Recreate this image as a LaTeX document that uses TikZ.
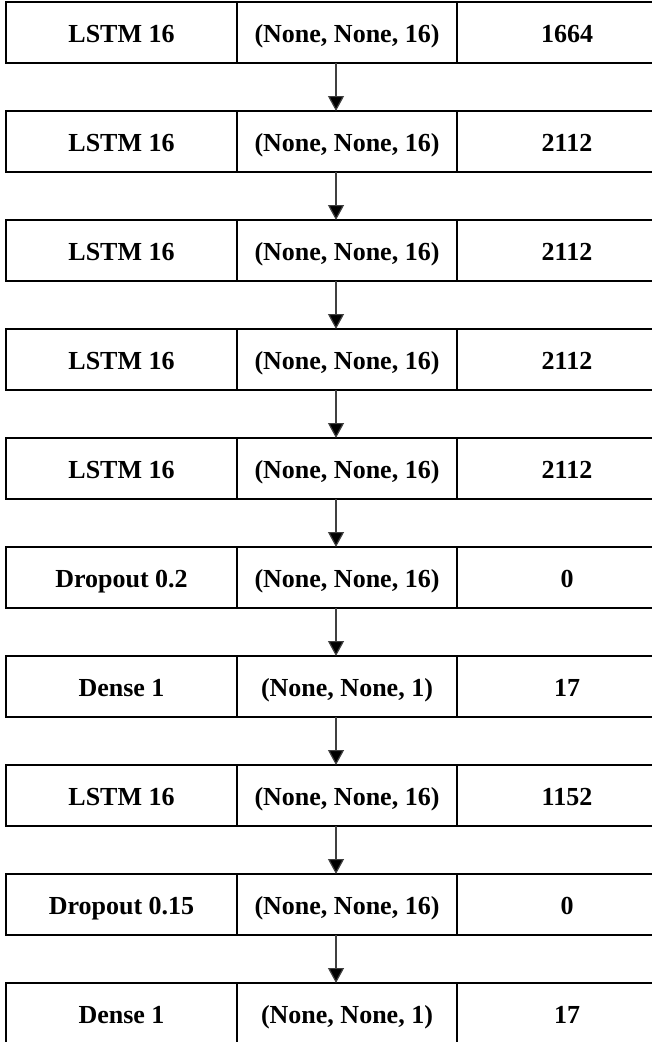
\documentclass[tikz,border=0pt]{standalone}
\usepackage{fontspec}
\setmainfont{Liberation Serif}
\usetikzlibrary{arrows.meta}
\tikzset{
  cell/.style={draw=black, line width=2pt, rectangle, inner sep=0pt, outer sep=0pt,
    minimum height=61pt, anchor=north west, text height=24pt, text depth=5pt,
    font=\fontsize{26}{30}\selectfont\bfseries},
  wideA/.style={cell, minimum width=231pt},
  wideB/.style={cell, minimum width=220pt},
  flow/.style={draw=black!75, line width=1.2pt,
    -{Triangle[width=16pt,length=15pt,fill=black]}}
}
\begin{document}
\begin{tikzpicture}[x=1pt,y=1pt]
  \useasboundingbox (0,0) rectangle (652,-1042);
  \foreach \i/\ln/\sh/\pr in {
      0/LSTM 16/{(None, None, 16)}/1664,
      1/LSTM 16/{(None, None, 16)}/2112,
      2/LSTM 16/{(None, None, 16)}/2112,
      3/LSTM 16/{(None, None, 16)}/2112,
      4/LSTM 16/{(None, None, 16)}/2112,
      5/Dropout 0.2/{(None, None, 16)}/0,
      6/Dense 1/{(None, None, 1)}/17,
      7/LSTM 16/{(None, None, 16)}/1152,
      8/Dropout 0.15/{(None, None, 16)}/0,
      9/Dense 1/{(None, None, 1)}/17} {
    \pgfmathsetmacro{\top}{-(2+109*\i)}
    \node[wideA] (name\i)  at (6,\top)   {\ln};
    \node[wideB] (shape\i) at (237,\top) {\sh};
    \node[wideB] (param\i) at (457,\top) {\pr};
  }
  \foreach \i [evaluate=\i as \j using int(\i+1)] in {0,...,8} {
    \draw[flow] ([xshift=-11pt]shape\i.south) -- ([xshift=-11pt]shape\j.north);
  }
\end{tikzpicture}
\end{document}
